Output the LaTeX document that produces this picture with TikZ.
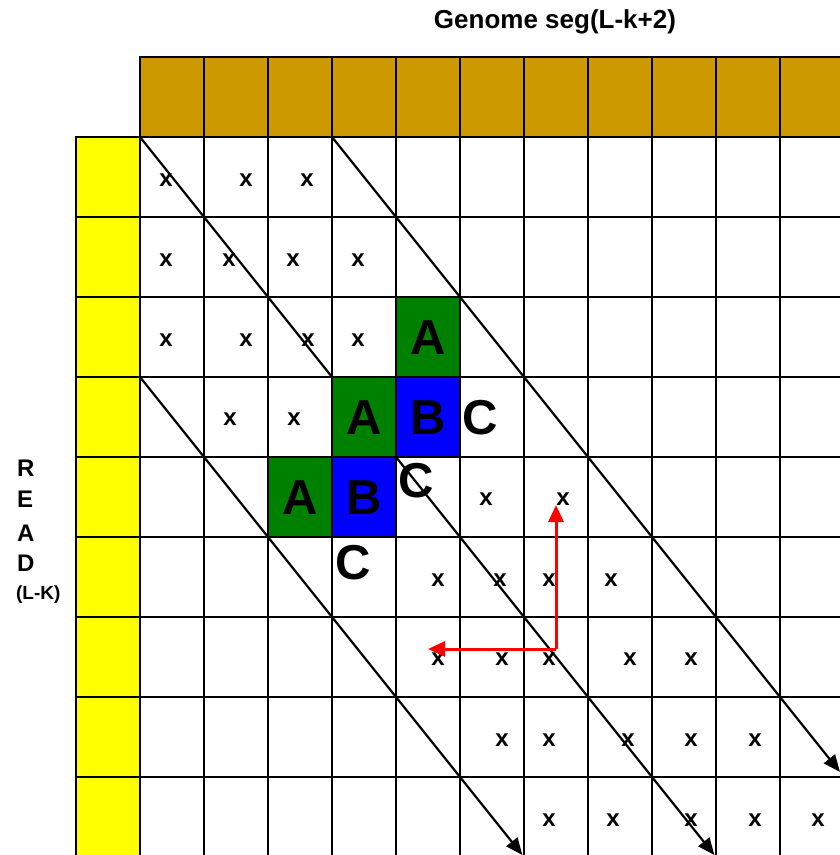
\documentclass[tikz,border=0pt]{standalone}
\usepackage{fontspec}
\setmainfont{Liberation Sans}
\definecolor{hdrbrown}{RGB}{204, 153, 0}
\definecolor{readyellow}{RGB}{255, 255, 0}
\definecolor{matchgreen}{RGB}{0, 128, 0}
\definecolor{matchblue}{RGB}{0, 0, 255}
\usetikzlibrary{arrows.meta}

\begin{document}
\begin{tikzpicture}[x=1pt, y=-1pt, line width=2.2pt,
  hitmark/.style={font=\fontsize{24}{24}\selectfont\bfseries, inner sep=0pt},
  bigletter/.style={font=\fontsize{49}{49}\selectfont\bfseries, inner sep=0pt},
  diagline/.style={line width=2.2pt, -{Triangle[length=17pt, width=14pt]}},
  walkline/.style={red, line width=3pt, -{Triangle[length=17pt, width=15pt]}}]
\useasboundingbox (0,0) rectangle (840,855);
% labels
\node[font=\fontsize{26}{26}\selectfont\bfseries] (title) at (555,22) {Genome seg(L-k+2)};
\foreach \ypos/\letter in {468/R, 499/E, 533/A, 563/D} {
  \node[font=\fontsize{24}{24}\selectfont\bfseries, anchor=west, inner sep=0pt] (read\letter) at (16,\ypos) {\letter};
}
\node[font=\fontsize{19}{19}\selectfont\bfseries, anchor=west, inner sep=0pt] (readlen) at (15,595) {(L-K)};
% header row, read column and grid
\foreach \c in {0,...,10} {
  \draw[fill=hdrbrown] ({140+64*\c},57) rectangle ++(64,80);
}
\foreach \r in {0,...,8} {
  \draw[fill=readyellow] (76,{137+80*\r}) rectangle ++(64,80);
}
\foreach \c in {0,...,10} {
  \foreach \r in {0,...,8} {
    \draw ({140+64*\c},{137+80*\r}) rectangle ++(64,80);
  }
}
% diagonals
\coordinate (diagAstart) at (140,137);
\coordinate (diagAend) at (714.4,855);
\coordinate (diagBstart) at (332,137);
\coordinate (diagBend) at (840,772);
\coordinate (diagCstart) at (140,377);
\coordinate (diagCend) at (522.4,855);
\draw[diagline] (diagAstart) -- (diagAend);
\draw[diagline] (diagBstart) -- (diagBend);
\draw[diagline] (diagCstart) -- (diagCend);
% matched cells
\foreach \cx/\cy/\fillc/\letter/\name in {396/297/matchgreen/A/a1, 332/377/matchgreen/A/a2, 268/457/matchgreen/A/a3,
  396/377/matchblue/B/b1, 332/457/matchblue/B/b2} {
  \draw[fill=\fillc] (\cx,\cy) rectangle ++(64,80);
  \node[bigletter] (\name) at ({\cx+32},{\cy+41}) {\letter};
}
\node[bigletter] (c1) at (480,418) {C};
\node[bigletter] (c2) at (416,481) {C};
\node[bigletter] (c3) at (353,563) {C};
% hits
\foreach \px/\py [count=\i] in {166/180, 246/180, 307/180,
  166/260, 229/260, 293/260, 358/260,
  166/340, 246/340, 308/340, 358/340,
  230/419, 294/419,
  486/499, 563/499,
  438/580, 500/580, 549/580, 611/580,
  438/659, 502/659, 549/659, 630/659, 691/659,
  502/740, 549/740, 628/740, 691/740, 755/740,
  549/820, 613/820, 691/820, 755/820, 818/820} {
  \node[hitmark] (hit\i) at (\px,\py) {x};
}
% walk
\coordinate (turn) at (556,649);
\coordinate (upend) at (556,505);
\coordinate (leftend) at (428,649);
\draw[walkline] (turn) -- (upend);
\draw[walkline] (turn) -- (leftend);
\end{tikzpicture}
\end{document}
